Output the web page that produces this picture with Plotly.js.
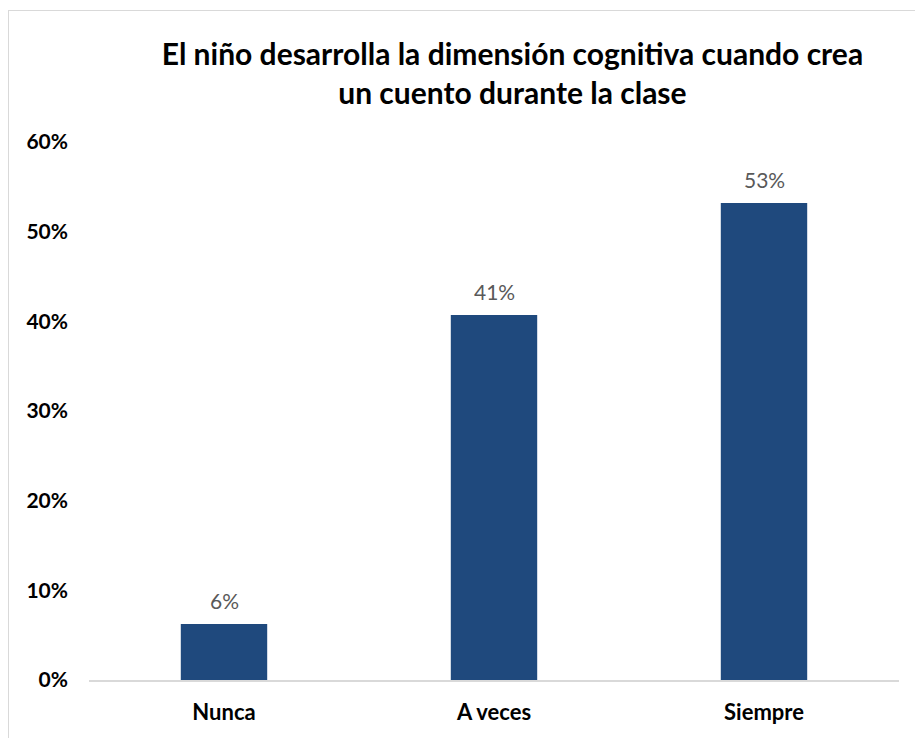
<!DOCTYPE html>
<html>
<head>
<meta charset="utf-8">
<script src="https://cdn.plot.ly/plotly-3.0.1.min.js"></script>
<style>
  html, body { margin: 0; padding: 0; background: #fff; }
  #wrap { position: relative; width: 915px; height: 738px; overflow: hidden; }
  #frame { position: absolute; left: 8px; top: 10px; width: 1000px; height: 1000px; border: 1px solid #d9d9d9; box-sizing: border-box; }
  #chart { position: absolute; left: 0; top: 0; width: 915px; height: 738px; }
</style>
</head>
<body>
<div id="wrap">
  <div id="frame"></div>
  <div id="chart"></div>
</div>
<script>
const categories = ["Nunca", "A veces", "Siempre"];
const values = [0.0625, 0.407, 0.532];
const tickValues = [0, 0.1, 0.2, 0.3, 0.4, 0.5, 0.6];
const tickLabels = ["0%", "10%", "20%", "30%", "40%", "50%", "60%"];
const titleText = "El niño desarrolla la dimensión cognitiva cuando crea<br>un cuento durante la clase";

const FONT = "Lato, 'Open Sans', sans-serif";

const trace = {
  type: "bar",
  x: categories,
  y: values,
  width: 0.32,
  marker: { color: "#1f497d" },
  hoverinfo: "none"
};

const labelAnnotations = categories.map((c, i) => ({
  x: c,
  y: values[i],
  xref: "x",
  yref: "y",
  text: Math.round(values[i] * 100) + "%",
  showarrow: false,
  yanchor: "bottom",
  yshift: 9,
  font: { family: FONT, size: 21, color: "#595959" }
}));

const layout = {
  width: 915,
  height: 738,
  paper_bgcolor: "rgba(0,0,0,0)",
  plot_bgcolor: "rgba(0,0,0,0)",
  margin: { l: 89, r: 16, t: 142, b: 58 },
  showlegend: false,
  title: {
    text: titleText,
    x: 0.56,
    xanchor: "center",
    y: 0.912,
    yanchor: "top",
    font: { family: FONT, size: 30, color: "#000", weight: "bold" }
  },
  xaxis: {
    type: "category",
    showline: true,
    linecolor: "#d9d9d9",
    linewidth: 2,
    showgrid: false,
    zeroline: false,
    ticks: "",
    tickfont: { family: FONT, size: 22, color: "#000", weight: "bold" },
    ticklabelstandoff: 12
  },
  yaxis: {
    range: [0, 0.6],
    tickvals: tickValues,
    ticktext: tickLabels,
    showline: false,
    showgrid: false,
    zeroline: false,
    ticks: "",
    tickfont: { family: FONT, size: 21, color: "#000", weight: "bold" },
    ticklabelstandoff: 20
  },
  annotations: labelAnnotations
};

Plotly.newPlot("chart", [trace], layout, { displayModeBar: false, staticPlot: true });
</script>
</body>
</html>
